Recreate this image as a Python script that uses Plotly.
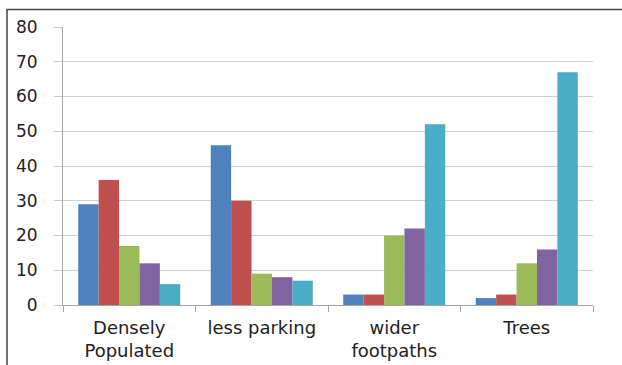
import plotly.graph_objects as go

categories = ["Densely<br>Populated", "less parking", "wider<br>footpaths", "Trees"]
series_names = ["Series 1", "Series 2", "Series 3", "Series 4", "Series 5"]
s1 = [29, 46, 3, 2]
s2 = [36, 30, 3, 3]
s3 = [17, 9, 20, 12]
s4 = [12, 8, 22, 16]
s5 = [6, 7, 52, 67]
colors = ["#4F81BD", "#C0504D", "#9BBB59", "#8064A2", "#4BACC6"]

W, H = 622, 365
L, R, T, B = 63, 29, 27, 60
pw, ph = W - L - R, H - T - B

fig = go.Figure()
for name, vals, c in zip(series_names, [s1, s2, s3, s4, s5], colors):
    fig.add_trace(go.Bar(x=categories, y=vals, name=name, marker=dict(color=c, line=dict(width=0))))

font = "DejaVu Sans, sans-serif"
fig.update_layout(
    width=W, height=H,
    margin=dict(l=L, r=R, t=T, b=B),
    paper_bgcolor="white", plot_bgcolor="white",
    barmode="group", bargap=0.23, bargroupgap=0,
    showlegend=False,
    xaxis=dict(
        showline=True, linecolor="#A6A6A6", linewidth=1,
        ticks="outside", tickson="boundaries", ticklen=6, tickcolor="#A6A6A6",
        tickfont=dict(family=font, size=18, color="#222222"),
        showgrid=False, automargin=False,
        ticklabelstandoff=6,
    ),
    yaxis=dict(
        range=[0, 80], dtick=10,
        showline=True, linecolor="#A6A6A6", linewidth=1,
        ticks="outside", ticklen=8, tickcolor="#C8C8C8",
        showgrid=True, gridcolor="#D0D0D0", gridwidth=1,
        zeroline=False, automargin=False,
        tickfont=dict(family=font, size=17, color="#222222"),
        ticklabelstandoff=13,
    ),
)

# outer frame of the original picture
fig.add_shape(
    type="rect", xref="paper", yref="paper",
    x0=(7 - L) / pw, x1=(640 - L) / pw,
    y0=(T + ph - 380) / ph, y1=(T + ph - 9.5) / ph,
    line=dict(color="#444444", width=1.5), fillcolor="rgba(0,0,0,0)",
)

fig.write_html("out.html")
